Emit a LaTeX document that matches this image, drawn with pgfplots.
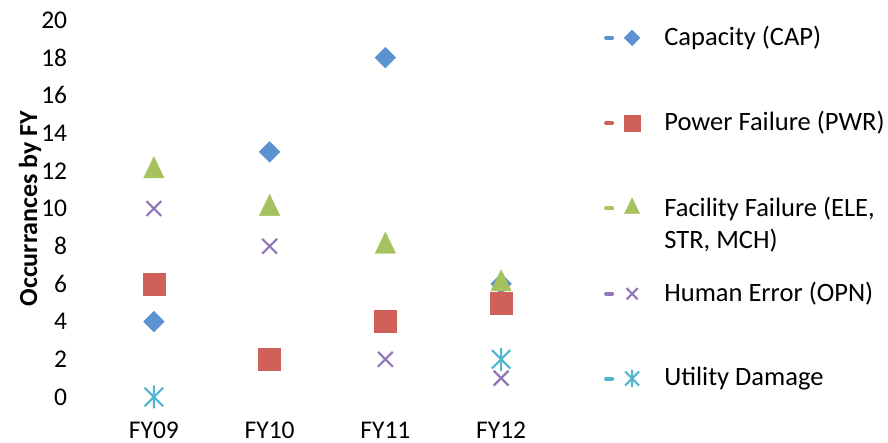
\documentclass[border=0pt]{standalone}
\usepackage{fontspec}
\setmainfont{Carlito}
\usepackage{pgfplots}
\pgfplotsset{compat=1.18}

\definecolor{capblue}{HTML}{5B92CF}
\definecolor{pwrred}{HTML}{D0605A}
\definecolor{elegreen}{HTML}{A5C25F}
\definecolor{opnpurple}{HTML}{9177B5}
\definecolor{utlcyan}{HTML}{4FB6CF}

% six-spoke star: an x with a vertical bar through it
\pgfdeclareplotmark{xstar}{%
  \pgfpathmoveto{\pgfqpoint{-0.8\pgfplotmarksize}{-0.8\pgfplotmarksize}}%
  \pgfpathlineto{\pgfqpoint{0.8\pgfplotmarksize}{0.8\pgfplotmarksize}}%
  \pgfpathmoveto{\pgfqpoint{-0.8\pgfplotmarksize}{0.8\pgfplotmarksize}}%
  \pgfpathlineto{\pgfqpoint{0.8\pgfplotmarksize}{-0.8\pgfplotmarksize}}%
  \pgfpathmoveto{\pgfqpoint{0pt}{-\pgfplotmarksize}}%
  \pgfpathlineto{\pgfqpoint{0pt}{\pgfplotmarksize}}%
  \pgfusepathqstroke}

\begin{document}
\fontsize{26}{31}\selectfont
\begin{tikzpicture}
\begin{axis}[
  at={(96pt,46pt)}, anchor=south west,
  scale only axis, width=463pt, height=377pt,
  xmin=-0.5, xmax=3.5, ymin=0, ymax=20,
  xtick={0,1,2,3}, xticklabels={FY09,FY10,FY11,FY12},
  ytick={0,2,...,20},
  axis line style={draw=none}, major tick length=0pt,
  clip=false,
  /pgf/number format/assume math mode=true,
  tick label style={font=\fontsize{25.5}{30}\selectfont},
  yticklabel style={xshift=-20pt},
  xticklabel style={yshift=-16pt},
  ylabel={\textbf{Occurrances by FY}},
  ylabel style={at={(axis description cs:-0.1425,0.5)}, anchor=center, font=\fontsize{26}{31}\selectfont},
  legend cell align=left,
  legend style={at={(1.097,0.984)}, anchor=north west, draw=none, fill=none,
    inner sep=0pt, nodes={inner sep=0pt}, row sep=62pt, column sep=24pt,
    font=\fontsize{26.5}{32}\selectfont},
  legend image code/.code={%
    \draw[#1, mark=none, solid, line width=4pt, line cap=round] (5pt,0pt) -- (11pt,0pt);
    \draw[#1, /tikz/every mark/.append style={scale=0.75}] plot coordinates {(31pt,0pt)};
  },
]
\addplot[only marks, mark=square*, mark size=7.3pt, color=capblue, mark options={rotate=45}]
  coordinates {(0,4) (1,13) (2,18) (3,6)};
\addlegendentry{Capacity (CAP)}
\addplot[only marks, mark=square*, mark size=11pt, color=pwrred]
  coordinates {(0,6) (1,2) (2,4) (3,5)};
\addlegendentry{Power Failure (PWR)}
\addplot[only marks, mark=triangle*, mark size=11.8pt, color=elegreen, mark options={yscale=1.2}]
  coordinates {(0,12) (1,10) (2,8) (3,6)};
\addlegendentry{\raisebox{0pt}[\height][14pt]{\parbox[t]{260pt}{Facility Failure (ELE,\\STR, MCH)}}}
\addplot[only marks, mark=x, mark size=10.5pt, line width=2.2pt, color=opnpurple]
  coordinates {(0,10) (1,8) (2,2) (3,1)};
\addlegendentry{Human Error (OPN)}
\addplot[only marks, mark=xstar, mark size=11.5pt, line width=2.2pt, color=utlcyan]
  coordinates {(0,0) (3,2)};
\addlegendentry{Utility Damage}
\end{axis}
\pgfresetboundingbox
\useasboundingbox (0pt,0pt) rectangle (888pt,443pt);
\end{tikzpicture}
\end{document}
